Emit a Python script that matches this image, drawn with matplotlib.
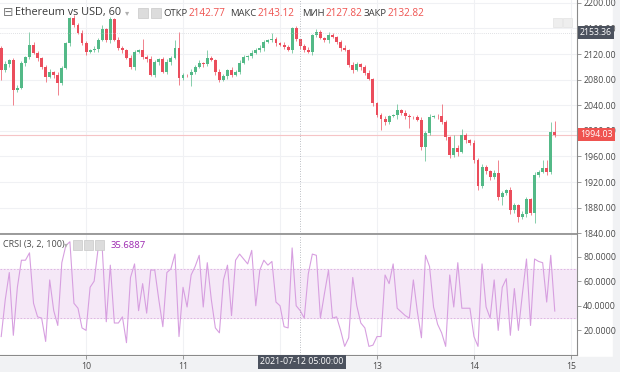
import matplotlib
matplotlib.use("Agg")
import pandas as pd
import matplotlib.pyplot as plt
import matplotlib.dates as mdates
from matplotlib.patches import Rectangle

# hourly ETH/USD candles, Jul 9 03:00 -> Jul 14 20:00
first_open = 2129.4
closes = [
    2095.0, 2104.4, 2110.6, 2063.8, 2066.9, 2105.9, 2115.3, 2134.1, 2121.6, 2113.8,
    2099.7, 2084.1, 2091.9, 2087.2, 2074.7, 2098.1, 2137.2, 2176.3, 2165.3, 2152.8,
    2137.2, 2123.1, 2126.3, 2127.8, 2141.9, 2159.1, 2141.9, 2174.7, 2141.9, 2129.4,
    2126.3, 2113.8, 2099.7, 2123.1, 2126.3, 2115.3, 2112.2, 2087.2, 2107.5, 2112.2,
    2091.9, 2107.5, 2113.8, 2129.4, 2082.5, 2087.2, 2086.5, 2091.9, 2099.7, 2105.9,
    2104.4, 2113.8, 2110.6, 2091.9, 2079.4, 2085.6, 2095.0, 2087.2, 2091.9, 2105.9,
    2115.3, 2116.5, 2121.6, 2126.3, 2129.4, 2138.8, 2141.9, 2143.4, 2137.2, 2134.1,
    2130.9, 2126.3, 2160.6, 2142.77, 2132.82, 2126.3, 2123.1, 2149.7, 2154.4, 2145.0,
    2141.9, 2149.7, 2146.6, 2138.8, 2129.4, 2126.3, 2102.8, 2095.0, 2104.4, 2099.7,
    2090.3, 2080.9, 2043.5, 2024.7, 2018.4, 2013.8, 2023.1, 2024.0, 2032.5, 2027.8,
    2023.1, 2021.6, 2021.0, 2016.9, 1974.7, 1996.6, 2021.6, 2023.1, 2022.5, 2013.8,
    1990.3, 1962.2, 1973.1, 1966.9, 1993.4, 1985.6, 1980.9, 1954.4, 1913.8, 1943.4,
    1937.2, 1927.8, 1934.1, 1896.6, 1902.8, 1907.5, 1876.3, 1884.1, 1865.3, 1870.0,
    1893.4, 1871.6, 1931.0, 1935.6, 1941.9, 1935.6, 1998.1, 1994.03,
]
up_wick = [
    3, 4, 2, 3, 5, 3, 2, 20, 4, 3,
    2, 3, 5, 2, 4, 3, 2, 2, 4, 3,
    5, 3, 2, 4, 3, 6, 2, 3, 2, 4,
    3, 2, 5, 3, 2, 17, 3, 4, 3, 2,
    3, 5, 3, 13, 25, 3, 2, 4, 3, 5,
    2, 12, 3, 2, 4, 3, 2, 5, 3, 4,
    3, 2, 4, 3, 5, 3, 2, 10, 3, 2,
    4, 3, 2, 3, 0.35, 3, 4, 2, 5, 3,
    2, 4, 3, 2, 3, 5, 2, 4, 3, 2,
    3, 4, 2, 1, 3, 4, 2, 3, 10, 2,
    4, 3, 2, 3, 5, 3, 4, 2, 3, 20,
    3, 2, 20, 4, 10, 3, 2, 4, 3, 5,
    3, 2, 4, 20, 3, 2, 5, 3, 2, 4,
    3, 2, 4, 3, 12, 12, 16, 17,
]
down_wick = [
    16, 3, 4, 24, 3, 2, 4, 3, 2, 5,
    3, 8, 2, 4, 18, 3, 2, 4, 3, 2,
    3, 5, 2, 3, 4, 2, 3, 5, 2, 3,
    4, 2, 3, 5, 2, 3, 4, 2, 3, 5,
    2, 3, 4, 2, 11, 3, 2, 16, 3, 2,
    4, 3, 2, 5, 3, 2, 4, 3, 2, 3,
    2, 4, 3, 2, 3, 5, 2, 3, 4, 2,
    3, 2, 4, 3, 5.0, 3, 2, 4, 3, 2,
    3, 5, 2, 3, 4, 2, 3, 5, 2, 4,
    3, 2, 5, 3, 17, 4, 3, 2, 5, 3,
    4, 17, 3, 2, 4, 22, 3, 2, 4, 3,
    5, 4, 3, 6, 2, 4, 3, 5, 6, 3,
    4, 5, 3, 4, 12, 3, 6, 4, 8, 3,
    4, 3, 15, 3, 2, 4, 3, 3,
]
crsi = [
    15, 45, 67, 16, 55, 77, 77, 83, 42, 31,
    30, 11, 61, 36, 24, 75, 89, 92, 42, 38,
    22, 20, 55, 60, 87, 87, 27, 73, 26, 26,
    31, 10, 63, 74, 36, 58, 34, 69, 69, 45,
    23, 67, 70, 82, 15, 55, 39, 65, 72, 81,
    39, 75, 45, 22, 18, 61, 73, 32, 77, 82,
    78, 74, 85, 40, 69, 77, 73, 76, 43, 40,
    23, 22, 87, 40, 36, 30, 66, 82, 81, 30,
    50, 69, 30, 31, 20, 7, 14, 63, 40, 26,
    22, 7, 8, 15, 15, 65, 58, 74, 38, 35,
    32, 30, 61, 35, 14, 81, 72, 39, 25, 18,
    7, 65, 39, 75, 38, 38, 38, 15, 7, 74,
    39, 30, 61, 20, 55, 62, 16, 54, 20, 50,
    78, 24, 78, 76, 75, 43, 81, 35.6887,
]
day_labels = ["10", "11", "12", "13", "14", "15"]
price_ticks = [1840, 1880, 1920, 1960, 2000, 2040, 2080, 2120, 2160, 2200]
crsi_ticks = [20, 40, 60, 80]

UP, DOWN = "#53b987", "#eb4d5c"
RED = "#ef5350"
TXT = "#4a4a4a"
W, H = 620, 372

plt.rcParams['font.family'] = ['Open Sans', 'DejaVu Sans']

times = pd.date_range("2021-07-09 03:00", periods=len(closes), freq="h")
t = mdates.date2num(times)
hour = 1 / 24
opens = [first_open] + closes[:-1]
highs = [max(o, c) + u for o, c, u in zip(opens, closes, up_wick)]
lows = [min(o, c) - d for o, c, d in zip(opens, closes, down_wick)]
cols = [UP if c >= o else DOWN for o, c in zip(opens, closes)]


def fx(x):
    return x / W


def fy(y):
    return 1 - y / H


fig = plt.figure(figsize=(6.2, 3.72), dpi=100, facecolor="white")
ax = fig.add_axes([0, fy(234), fx(577), fy(0) - fy(234)])
ax2 = fig.add_axes([0, fy(355), fx(577), fy(235) - fy(355)], sharex=ax)

# bottom / right gray strips
fig.add_artist(Rectangle((0, 0), 1, fy(357), transform=fig.transFigure,
                         color="#f1f2f4", zorder=0))
fig.add_artist(Rectangle((fx(613), 0), 1, 1, transform=fig.transFigure,
                         color="#f1f2f4", zorder=0))

# candles
ax.vlines(t, lows, highs, colors=cols, lw=0.7, alpha=0.7, zorder=3)
bottoms = [min(o, c) for o, c in zip(opens, closes)]
heights = [max(abs(c - o), 0.8) for o, c in zip(opens, closes)]
ax.bar(t, heights, bottom=bottoms, width=0.72 * hour, color=cols, zorder=4)

x0 = t[0] - 0.3 * hour
x1 = t[0] + 142.5 * hour
ax.set_xlim(x0, x1)
ax.set_ylim(1838.75, 2204.4)

day_ticks = mdates.date2num(pd.date_range("2021-07-10", periods=len(day_labels), freq="D"))
for a in (ax, ax2):
    a.set_facecolor("none")
    for tk in day_ticks:
        a.axvline(tk, color="#f0f1f4", lw=0.8, zorder=0)
    for s in ["left", "top"]:
        a.spines[s].set_visible(False)
    a.spines["right"].set_color("#8a8a8a")
    a.spines["bottom"].set_color("#8a8a8a")
    a.yaxis.tick_right()
    a.tick_params(axis="y", length=3, width=0.6, color="#8a8a8a", labelsize=6.3,
                  labelcolor=TXT, pad=1.5)

for p in price_ticks:
    ax.axhline(p, color="#f0f1f4", lw=0.8, zorder=0)
ax.set_yticks(price_ticks)
ax.set_yticklabels([f"{p:.2f}" for p in price_ticks])
ax.spines["bottom"].set_linewidth(1.2)
ax.tick_params(axis="x", bottom=False, labelbottom=False)

# last price line and tags
ax.axhline(closes[-1], color="#f6c4c6", lw=0.8, zorder=2)
tag_tr = ax.get_yaxis_transform()
ax.text(1.005, closes[-1], f"{closes[-1]:.2f}", transform=tag_tr, fontsize=6.3,
        color="white", va="center", ha="left", clip_on=False, zorder=10,
        bbox=dict(boxstyle="square,pad=0.25", fc=RED, ec="none"))
ax.text(1.005, 2153.36, "2153.36", transform=tag_tr, fontsize=6.3, color="white",
        va="center", ha="left", clip_on=False, zorder=10,
        bbox=dict(boxstyle="square,pad=0.25", fc="#4c525e", ec="none"))

# crosshair
tc = t[74]
for a in (ax, ax2):
    a.axvline(tc, color="#a5a8b0", lw=0.6, ls=(0, (1, 2)), zorder=5)
ax.axhline(2153.36, color="#c4c6cc", lw=0.5, ls=(0, (1, 2)), zorder=5)

# CRSI panel
ax2.axhspan(30, 70, color="#f5e8f7", zorder=0)
for lvl in (30, 70):
    ax2.axhline(lvl, color="#d9aede", lw=0.6, ls=(0, (2, 2)), zorder=1)
ax2.plot(t, crsi, color="#d79fe0", lw=0.8, zorder=3)
ax2.set_ylim(0, 97.5)
ax2.set_yticks(crsi_ticks)
ax2.set_yticklabels([f"{v:.4f}" for v in crsi_ticks])
ax2.set_xticks(day_ticks)
ax2.set_xticklabels(day_labels)
ax2.tick_params(axis="x", length=3, width=0.6, color="#8a8a8a", labelsize=6.3,
                labelcolor=TXT, pad=2)

fig.text(fx(302), fy(362), "2021-07-12 05:00:00", fontsize=6.3, color="white",
         ha="center", va="center", zorder=10,
         bbox=dict(boxstyle="square,pad=0.3", fc="#4c525e", ec="none"))

# header
fig.text(fx(3), fy(13), "⊟", fontsize=9, color="#7a7a7a", va="center",
         family=["DejaVu Sans"])
fig.text(fx(15), fy(13), "Ethereum vs USD, 60", fontsize=7.8, color="#3a3a3a",
         va="center")
fig.text(fx(125), fy(13), "▾", fontsize=6, color="#b0b0b0", va="center",
         family=["DejaVu Sans"])
for bx in (138, 151):
    fig.add_artist(Rectangle((fx(bx), fy(18)), fx(10), fy(8) - fy(18),
                             transform=fig.transFigure, fc="#dcdcdc", ec="#c8c8c8",
                             lw=0.5))
for bx in (553, 563):
    fig.add_artist(Rectangle((fx(bx), fy(27)), fx(9), fy(18) - fy(27),
                             transform=fig.transFigure, fc="#eeeeee", ec="#e2e2e2",
                             lw=0.5))
ohlc = [("ОТКР", "2142.77", 163), ("МАКС", "2143.12", 230), ("МИН", "2127.82", 302),
        ("ЗАКР", "2132.82", 364)]
fig.canvas.draw()
renderer = fig.canvas.get_renderer()
for name, val, xp in ohlc:
    tx = fig.text(fx(xp), fy(13), name, fontsize=6.8, color="#3a3a3a", va="center")
    bb = tx.get_window_extent(renderer=renderer)
    fig.text(bb.x1 / W + fx(1), fy(13), val, fontsize=7.2, color=RED, va="center")

# CRSI legend
fig.text(fx(3), fy(245), "CRSI (3, 2, 100)", fontsize=6.5, color="#4a4a4a",
         va="center")
fig.text(fx(64), fy(245), "▾", fontsize=5.5, color="#b0b0b0", va="center",
         family=["DejaVu Sans"])
for bx in (73, 84, 95):
    fig.add_artist(Rectangle((fx(bx), fy(250)), fx(9), fy(240) - fy(250),
                             transform=fig.transFigure, fc="#dcdcdc", ec="#c8c8c8",
                             lw=0.5))
fig.text(fx(111), fy(245), "35.6887", fontsize=6.8, color="#9c27b0", va="center")

fig.savefig("out.png", dpi=100, facecolor=fig.get_facecolor())
